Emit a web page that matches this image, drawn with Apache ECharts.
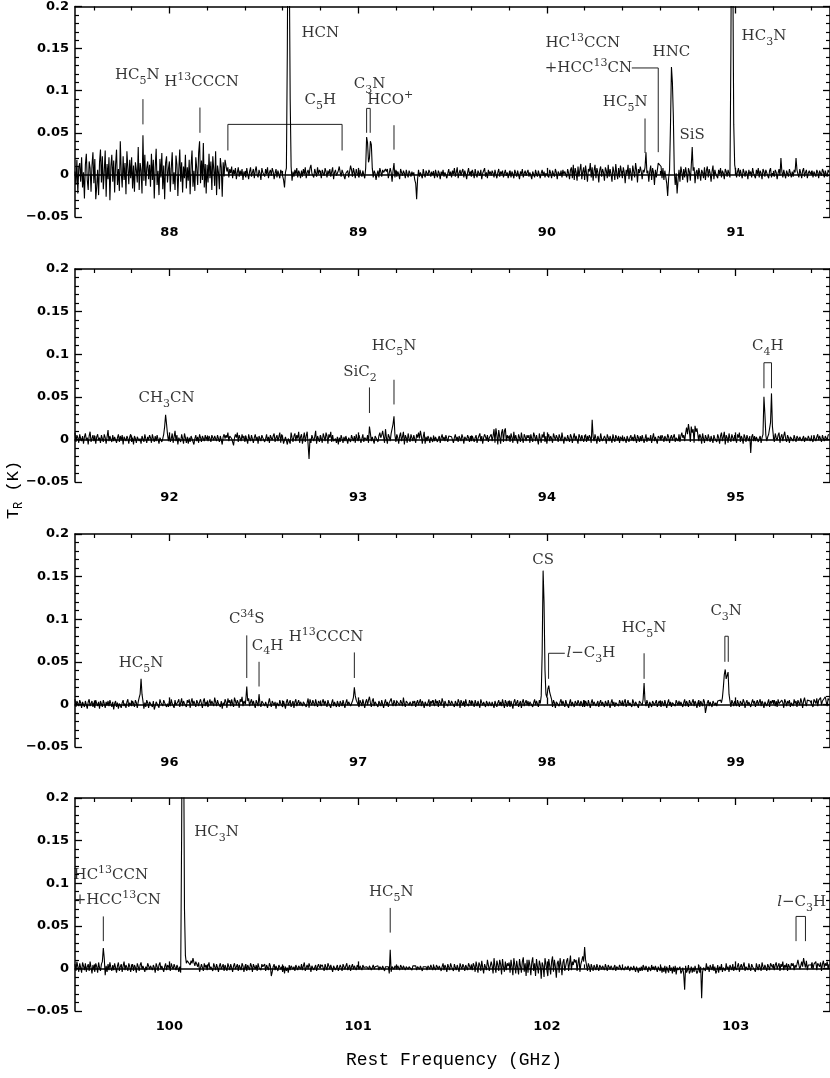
<!DOCTYPE html>
<html>
<head>
<meta charset="utf-8">
<script src="https://cdn.jsdelivr.net/npm/echarts@6/dist/echarts.min.js"></script>
<style>
  html, body { margin: 0; padding: 0; background: #fff; }
  #chart { width: 830px; height: 1078px; }
</style>
</head>
<body>
<div id="chart"></div>
<script>
// first channel of each panel (GHz); channels are 5 MHz apart
const panelStarts = [87.5, 91.5, 95.5, 99.5]
const channelStep = 0.005

// antenna temperature per channel, mK (one row = 0.1 GHz)
const spec1 = [
  4, -12, 18, -22, 9, 14, -8, 21, -15, 3, -28, 12, 25, -6, -18, 16, 8, -20, 11, 27, // 87.5
  -10, 19, -29, -14, 6, -24, 15, 30, -9, 22, -17, 4, 29, -26, 13, -5, 21, -30, 10, 24,
  -8, 17, -21, 12, 30, -12, 7, -19, 40, 3, -15, 22, -6, 14, -23, 28, 9, -11, 18, -4,
  21, -16, 11, -20, 15, 6, -9, 33, -18, 14, 5, -22, 47, -7, 24, -13, 8, 16, -5, 12,
  -14, 25, -6, 18, -28, 9, 31, -12, 5, -24, 19, -3, 26, -17, 11, -29, 14, 22, -9, 7,
  16, -20, 8, 27, -11, 3, -18, 23, 12, -25, 6, 30, -8, 15, -21, 10, -4, 24, -16, 9, // 88.0
  -7, 18, -23, 11, 29, -14, 5, -19, 21, 8, -12, 26, 40, -10, 17, -6, 38, -15, 13, -22,
  12, -9, 25, -4, 16, -18, 22, 7, -13, 28, -24, 11, 3, -17, 20, 9, -26, 15, -2, 18,
  20, 4, 9, -3, 7, 2, 10, -4, 6, 1, 8, -5, 3, 9, -2, 5, 0, 7, -6, 4,
  6, -3, 8, 1, -5, 4, 9, -2, 3, 7, -4, 5, 10, 0, -3, 6, 2, -6, 8, 3,
  5, -2, 7, 1, 9, -4, 3, 6, -1, 8, 4, -5, 2, 7, -3, 5, 1, -4, 6, 3, // 88.5
  2, -6, -15, 3, 8, 150, 400, 260, 90, 10, -7, 4, -2, 6, 1, 8, -3, 5, 2, -4,
  5, -2, 7, 1, 9, -4, 3, 6, -1, 8, 12, 2, 4, -3, 7, 5, -2, 9, 1, 6,
  3, -4, 6, 2, -1, 8, 4, -3, 5, 1, 7, -2, 4, 9, -5, 3, 6, -1, 2, 5,
  10, 3, -2, 6, 4, 8, -5, 2, 0, 5, -3, 4, 11, 6, -2, 8, 3, -4, 7, 2,
  4, -3, 6, 1, -2, 5, 3, -4, 8, 45, 38, 15, 20, 40, 36, 8, -3, 5, 2, -6, // 89.0
  1, 5, -3, 8, 4, -2, 6, 3, 2, 7, 4, 7, -4, 2, 8, 3, -8, 5, 14, -3,
  6, -2, 4, 1, -5, 7, 3, -1, 5, 2, -4, 6, 1, -3, 5, 2, -2, 4, 0, 3,
  -6, -10, -29, -5, 6, -2, 3, 5, -4, 7, 1, -3, 5, 2, -1, 6, 3, -2, 4, 0,
  3, -4, 6, 1, -3, 5, 2, -5, 4, 0, 6, -2, 3, 5, -4, 2, 7, -1, 4, -3,
  5, 1, 8, -2, 3, 9, -4, 2, 6, -1, 4, 7, -3, 5, 1, -5, 3, 8, 0, 4, // 89.5
  -2, 6, 2, -4, 7, 1, -3, 5, 3, -1, 6, -5, 2, 4, 8, -2, 3, -4, 6, 1,
  4, -1, 5, 2, -3, 6, 1, -4, 3, 7, -2, 4, 1, 5, -3, 2, 6, -1, 3, -4,
  2, 5, -3, 4, 1, -4, 6, 2, -2, 5, 3, -5, 4, 1, 7, -3, 2, 5, -1, 3,
  6, -2, 3, 1, -5, 4, 2, -3, 6, 1, -2, 5, 3, -4, 2, 6, -1, 4, -3, 2,
  1, 4, -3, 6, 2, -4, 5, 1, -2, 7, 3, -5, 4, 2, -1, 5, -3, 6, 1, 4, // 90.0
  4, -3, 7, 2, -5, 6, 9, -4, 12, -6, 8, 3, -7, 10, -2, 6, 13, -5, 4, 9,
  -6, 11, 2, -8, 7, 4, 14, -3, 9, -7, 5, 12, -4, 8, 3, -9, 6, 10, -2, 7,
  3, -7, 9, 5, -4, 12, -2, 7, 1, -8, 10, 4, -6, 13, 2, -5, 8, -3, 11, 4,
  -4, 9, 3, -10, 6, 1, 12, -5, 8, 2, -7, 11, 4, -3, 14, 6, -9, 7, 2, 10,
  4, -5, 6, 3, 9, 27, 2, 5, -8, 4, 11, -6, 8, 3, -12, 6, -3, 5, 14, 12, // 90.5
  16, 10, -4, 8, -6, 5, 3, -10, -25, -4, 6, 60, 128, 110, 70, 5, -12, 2, -22, -6,
  6, -8, 10, 3, -6, 7, -3, 9, 2, -9, 8, 4, -7, 11, 33, 5, 9, -10, 3, 6,
  -5, 8, 2, -7, 6, 3, -4, 9, -6, 5, 10, -3, 7, 2, -8, 4, 11, -5, 6, 1,
  3, -4, 6, 1, 8, -3, 5, 2, -5, 7, 4, -2, 6, 4, -3, 150, 400, 250, 60, 12,
  5, -3, 4, 8, -2, 6, 1, -4, 7, 3, -2, 5, 2, -5, 6, 1, 4, -3, 8, 2, // 91.0
  3, -4, 6, 1, 8, -3, 5, 2, -5, 7, 4, -2, 6, 4, -1, -4, 5, 8, -3, 2,
  4, -2, 6, 3, -5, 2, 7, -1, 20, 4, -3, 6, 1, -4, 5, 3, -2, 7, 2, -3,
  4, -2, 6, 3, 20, 6, 1, -3, 7, 2, -4, 5, 8, -2, 3, 6, -4, 2, 5, 1,
  2, 5, -3, 4, 1, -2, 6, 3, -4, 5, 2, -1, 7, 4, -3, 5, 1, -2, 6, 3
]
const spec2 = [
  8, -3, 5, 2, -4, 6, 1, -2, 4, -5, 3, 7, -1, 2, -6, 4, 9, -3, 1, 5, // 91.5
  -2, 4, -5, 3, 6, -1, 2, -4, 5, 1, -3, 6, 2, -5, 3, 11, -2, 4, 0, -3,
  5, -2, 3, 1, -4, 2, 6, -3, 4, -1, 5, -6, 3, 2, -2, 4, 1, -5, 3, 6,
  -3, 2, -6, 4, 1, -4, 3, 5, -2, 1, -5, 4, 2, -3, 6, 1, -4, 3, -1, 5,
  2, -4, 6, 1, -3, 4, -2, 5, 3, -5, 2, 4, -3, 1, 6, 15, 29, 18, 6, -2,
  5, -3, 1, 7, -4, 3, 10, -2, 5, -6, 2, 4, -3, 6, 1, -5, 7, 2, -4, 3, // 92.0
  -5, 2, -3, 4, 6, 3, -6, 1, 5, -2, 3, -4, 6, 2, -3, 4, 1, -2, 5, 0,
  3, -2, 4, 1, -3, 5, 2, -1, 4, 3, -2, 5, 1, -3, 4, 2, -6, 3, 6, 1,
  5, 2, 8, -2, 4, 6, 1, 3, -7, 2, 6, 2, 8, -3, 5, 3, -2, 6, 1, 4,
  -3, 4, 2, -5, 6, 1, -2, 5, 3, -4, 2, 6, -1, 3, -5, 4, 1, -2, 5, 2,
  4, -3, 1, 6, -2, 3, -4, 5, 2, -1, 4, 7, -3, 2, 5, -2, 3, 8, -4, 6, // 92.5
  2, -5, -4, 3, 5, -6, 1, 3, -5, 8, 2, -3, 4, 7, -2, 5, 1, 9, -4, 3,
  6, -5, 2, 8, -3, 4, 9, -6, -23, 1, -4, 5, 7, -2, 3, 10, -5, 4, 2, -3,
  5, 1, -4, 7, 3, -2, 8, 4, -5, 6, 2, 9, -3, 5, -2, -2, 1, -4, 3, -6,
  2, -3, 5, 1, -4, 3, -2, 4, 6, -5, 2, 1, -3, 5, 3, -2, 4, -4, 6, 1,
  -2, 5, 3, -4, 1, 6, -3, 2, 4, -1, 5, -4, 15, 7, -2, 3, 1, -5, 4, 2, // 93.0
  6, -3, 4, 8, 2, 5, 10, 3, -4, 12, 2, -5, 6, 3, -2, 7, 9, 18, 27, 5,
  -3, 6, 2, -5, 4, 8, -2, 3, 9, -6, 5, 2, -4, 7, 1, -3, 6, 4, -2, 5,
  3, -4, 6, 2, 8, 1, 10, 4, -5, 3, 9, -5, 3, -2, 4, 1, -4, 3, 2, -3,
  4, -2, 3, 5, -3, 1, 4, -4, 2, 6, -1, 3, -2, 5, 1, -3, 4, 2, 6, 3,
  5, -4, 2, 6, -1, 3, -3, 4, 1, -2, 6, 2, -5, 3, 4, -1, 5, 2, -3, 4, // 93.5
  -2, 4, 6, -3, 2, 5, -4, 1, 3, 7, -2, 4, -5, 2, 6, 3, -1, 5, -3, 2,
  3, 6, -2, 4, 12, -4, 13, 5, -6, 11, 3, -5, 8, 12, -3, 10, 13, -2, 5, 1,
  4, -3, 7, 2, -4, 9, -1, 5, 3, -5, 6, 2, -3, 8, 1, -4, 6, 3, -2, 5,
  2, 5, -4, 6, 1, -3, 8, 4, -2, 5, 3, -6, 7, 1, -4, 6, 2, 9, -3, 4,
  -5, 3, 6, -2, 4, 1, -4, 7, 3, -1, 5, 2, -3, 6, 4, -2, 8, 1, -5, 3, // 94.0
  4, -2, 5, 1, -3, 6, 3, -4, 2, 7, -1, 4, 2, -5, 6, 3, -2, 5, 1, -3,
  2, 6, -3, 4, -1, 5, 2, -4, 23, 3, -2, 6, 1, -5, 4, 2, -3, 7, 1, -2,
  -3, 4, 1, -5, 6, 2, -2, 4, 3, -4, 6, 1, -3, 5, 2, -1, 4, -4, 3, 2,
  5, -2, 3, 1, -4, 4, 6, -3, 2, 5, -1, 3, -2, 6, 1, -4, 5, 2, -3, 4,
  -2, 5, 3, -4, 1, 6, -3, 2, 4, -1, 5, -4, 2, 7, -2, 3, 1, -5, 4, 2, // 94.5
  3, -1, 5, 2, -3, 4, 1, -2, 6, 3, -4, 2, 5, -1, 3, 6, -3, 2, 4, -2,
  6, -3, 4, 8, 2, 5, -2, 7, 14, 6, 18, 10, -3, 15, 8, 12, -4, 16, 9, 13,
  11, -2, 6, 3, -5, 7, 1, -4, 5, 3, -2, 6, 1, -3, 4, 2, -4, 5, 1, 3,
  -3, 6, 2, -5, 4, 8, -2, 3, 9, -6, 5, 2, -4, 7, 1, -3, 6, 4, -2, 5,
  3, -4, 6, 2, 8, -3, 4, 1, -5, 6, 2, -3, 5, 1, -2, 4, -16, 3, 6, -2, // 95.0
  4, -2, 3, 5, -3, 1, 4, -4, 2, 6, 50, 30, 5, -2, 3, 6, 8, 20, 54, 15,
  4, -3, 7, 2, -1, 5, 8, -4, 3, 6, -2, 4, 9, 1, -3, 5, 2, -4, 3, 1,
  3, -2, 5, 1, -3, 4, 2, -1, 3, 5, -2, 1, 4, -3, 2, 3, -1, 4, 2, -2,
  2, 4, -3, 5, 1, -2, 3, 6, -1, 4, 2, -3, 5, 1, -2, 4, 3, -1, 5, 6
]
const spec3 = [
  6, -3, 4, 1, -2, 5, 2, -4, 3, 1, -3, 4, 2, -5, 3, 6, -2, 1, 4, -3, // 95.5
  2, -4, 5, 1, -2, 3, -5, 4, 2, -3, 5, 1, -4, 3, -1, 4, -2, 5, 1, -3,
  3, -6, 1, 4, -3, 2, -5, 1, 3, -4, 2, 5, -2, 1, -4, 3, 6, -3, 2, 4,
  -2, 4, 1, -3, 5, 2, -4, 3, 8, 12, 30, 12, 4, -5, 2, -3, 5, 2, -4, 3,
  5, 1, -3, 4, -6, -2, 3, 5, 1, -4, 6, 2, 3, -2, 5, 2, 4, -3, 1, -3,
  4, -2, 6, 1, 3, -4, 5, -1, -1, 3, 6, -3, 2, 7, -2, 4, 1, 3, -3, 5, // 96.0
  2, 6, -4, 3, 7, -1, 4, 2, -3, 5, 2, -2, 3, 6, 1, -4, 4, 7, -2, 3,
  5, -3, 2, 6, -1, 4, 3, -2, 8, 6, -2, 5, 1, 1, -3, 4, -5, 2, -1, 6,
  3, -4, 7, 2, 5, -2, 6, 1, -3, 8, 4, -1, 5, 2, -4, 6, 3, 9, -2, 4,
  1, 5, 21, 4, 7, -2, 3, 6, -1, 4, 2, -4, 5, 3, -2, 12, 1, -3, 4, 2,
  6, -2, 3, 5, -4, 2, 7, 1, -3, 4, 6, -1, 3, -5, 2, 4, -2, 5, 1, 3, // 96.5
  -3, 4, 2, -5, 3, 6, -1, 2, 5, -3, 1, 4, -4, 3, 6, -2, 2, 5, -1, 3,
  4, -2, 3, 1, 5, -3, 2, 7, -4, 6, 2, -1, 5, 3, -2, 6, 1, -3, 4, 2,
  5, -2, 3, 6, -1, 4, 2, -3, 5, 1, 3, -4, 2, 6, -2, 3, 1, -3, 4, 2,
  -3, 4, 1, -2, 5, 3, -4, 2, 6, -1, 3, 5, -2, 1, 4, 8, 20, 10, 5, 3,
  4, -3, 5, 2, -2, 6, 8, -4, 3, 6, -1, 5, 9, 2, -3, 4, 7, -2, 3, 1, // 97.0
  2, -3, 4, 1, -2, 5, 3, -4, 2, 6, -1, 3, -3, 2, 4, 7, 1, -2, 5, 3,
  -2, 4, 3, 6, -1, 5, 2, -2, 8, 1, -3, 4, 2, 6, -1, 3, 5, -2, 4, 1,
  4, -3, 2, 5, -1, 3, 6, -2, 4, 1, -4, 3, 5, -2, 2, 6, -3, 4, 1, 5,
  3, -2, 6, 1, 4, -3, 5, 2, -1, 7, 3, -4, 4, 1, 2, -2, 5, 3, -1, 4,
  2, 5, -3, 4, 1, -2, 6, 3, -4, 5, 2, -1, 4, -3, 6, 1, 3, -2, 5, 2, // 97.5
  -1, 4, 2, -3, 5, 1, -2, 4, 3, -4, 6, 2, -1, 3, 5, -3, 4, 1, -2, 3,
  5, -2, 3, 1, -4, 4, 6, -3, 2, 5, -1, 3, -2, 6, 1, -4, 5, 2, -3, 4,
  3, -3, 4, 2, -5, 3, 6, -1, 2, 5, -3, 1, 4, -4, 3, 6, -2, 2, 5, -1,
  4, -2, 3, 1, 5, -3, 2, 6, -1, 4, 2, -3, 5, 1, 10, 60, 157, 120, 40, 12,
  8, 18, 22, 14, 12, 6, -3, 5, 2, -4, 3, 1, 5, -2, 3, 6, -1, 4, 2, -3, // 98.0
  5, 1, 3, -4, 2, 6, -2, 3, 1, -3, 4, 2, -1, 5, 3, -2, 4, 1, -3, 5,
  -3, 4, 1, -2, 5, 3, -4, 2, 6, -1, 3, 5, -2, 1, 4, -3, 2, 5, -1, 3,
  2, -3, 4, 1, -2, 5, 3, -4, 2, 6, -1, 3, -3, 2, 4, 1, -2, 5, 3, -1,
  4, -2, 3, 6, -3, 1, 5, -1, 2, 4, -3, 6, 2, -2, 3, 5, 1, -4, 4, 2,
  3, -1, 6, 25, 4, -2, 5, 1, -4, 3, 2, -3, 4, 6, -1, 2, 5, -3, 1, 4, // 98.5
  2, -3, 4, 1, -2, 5, 3, -4, 2, 6, -1, 3, -3, 2, 4, 1, -2, 5, 3, -1,
  4, -1, 3, 5, -3, 2, 6, -2, 4, 1, -3, 5, 2, -1, 3, 6, -2, 4, 1, -4,
  2, 5, -3, 4, 1, -2, 6, 3, -10, -4, 2, 5, -2, 3, 1, -3, 4, 6, -1, 2,
  -2, 4, 3, 6, 5, 2, 8, 20, 35, 41, 30, 28, 38, 12, 4, -3, 5, 2, -2, 4,
  3, -2, 5, 1, -3, 4, 2, -1, 6, 3, -4, 2, 5, -1, 3, 4, -3, 2, 6, 1, // 99.0
  4, -3, 2, 5, -1, 3, 6, -2, 4, 1, -4, 3, 5, -2, 2, 6, -3, 4, 1, 5,
  2, 5, -2, 4, -3, 6, 1, 3, -1, 5, 2, -4, 6, 3, -2, 4, 1, 5, -3, 2,
  3, -2, 6, 1, 4, -3, 5, 2, -1, 7, 3, -4, 4, 8, 2, -2, 5, 3, 6, 4,
  5, 2, -3, 6, 4, 1, 7, -2, 5, 3, 8, -1, 4, 6, 2, 9, 3, -2, 7, 5
]
const spec4 = [
  5, -3, 8, 2, -4, 6, 1, -5, 7, 3, -2, 6, -4, 2, 5, -3, 8, 1, -6, 4, // 99.5
  3, -4, 6, 2, -5, 7, 1, -3, 5, 8, 24, 12, -8, 3, -4, 5, -2, 7, 1, -3,
  4, -2, 6, 1, -5, 3, 7, -3, 2, 5, -4, 3, 8, -2, 4, 1, -3, 6, 2, -4,
  2, 5, -3, 4, 1, -5, 6, 2, -3, 4, 7, -1, 3, 5, -4, 2, -2, 6, 3, -1,
  3, 5, -2, 4, 1, -5, 6, 2, -3, 4, 7, -1, 3, 5, -4, 2, 6, -2, 4, 1,
  4, -3, 6, 2, -1, 5, 3, -2, 4, 1, -4, 2, -5, 160, 400, 300, 70, 15, 6, 9, // 100.0
  8, 10, 4, 9, 6, 12, 7, 3, 8, 5, 2, 7, -4, -2, 5, 3, -3, 6, 1, 4,
  -2, 3, 7, -1, 2, 4, -3, 6, 2, -2, 5, 1, -4, 3, 6, -1, 2, 5, -3, 4,
  4, -3, 6, 2, -2, 5, 1, -4, 3, 6, -1, 2, 5, -3, 4, 1, -2, 6, 3, -4,
  2, 5, -3, 4, 1, -2, 6, 3, -4, 5, 2, -1, 4, -3, 6, 1, 3, -2, 5, 2,
  2, 5, -3, 4, 1, -2, 6, 3, -9, -4, 2, 5, -2, 3, 1, -3, 4, 6, -1, 2, // 100.5
  -4, 3, -6, 2, -3, 1, -5, 4, -2, 3, 5, -1, 2, -3, 4, 1, -2, 3, 5, -1,
  5, -2, 3, 7, -3, 1, 4, -1, 6, 2, -4, 3, 5, -2, 1, 4, -3, 2, 5, 1,
  3, -1, 4, 2, -3, 5, 1, -2, 6, 3, -1, 4, 2, -4, 3, 5, -2, 1, 4, -3,
  -2, 4, 1, -3, 5, 2, -1, 3, 6, -2, 1, 4, -3, 2, 5, -1, 3, 1, -2, 4,
  2, -1, 3, 1, -2, 4, 1, 3, -1, 2, 4, -1, 3, 2, -2, 1, 4, -1, 2, 3, // 101.0
  1, 3, -2, 2, 4, -1, 3, 1, -3, 2, 4, 0, 2, -6, 22, -4, 2, 1, -1, 3,
  2, -1, 3, 1, -2, 4, 2, -1, 3, 1, -2, 2, 3, -1, 2, 4, 1, -2, 3, 1,
  1, 3, -2, 2, 4, -1, 3, 1, -3, 2, 4, 0, 2, -2, 3, 1, -1, 4, 2, -2,
  3, 1, -2, 4, 2, -1, 3, 5, -3, 2, 6, -2, 4, 1, -4, 5, 3, -2, 6, 2,
  2, -3, 5, 1, -2, 4, 3, -4, 6, 2, -1, 5, 2, -3, 4, 1, -2, 6, 3, -1, // 101.5
  4, -2, 6, 3, -4, 8, 2, -5, 7, 4, -3, 9, 1, -6, 5, 3, -2, 10, 4, -3,
  -4, 8, 3, -6, 12, 2, -5, 9, 4, -3, 10, 5, -7, 11, 2, -4, 8, -2, 6, 3,
  7, -5, 10, 2, -8, 12, 4, -6, 9, 1, -7, 11, 3, -5, 8, 13, -4, 6, -9, 10,
  -5, 10, 4, -8, 7, 13, -3, 6, -9, 11, 2, -6, 9, 4, -12, 7, 3, -10, 12, 5,
  6, -9, 11, 3, -7, 8, 14, -4, 10, 2, -11, 6, 9, -5, 12, 4, -8, 7, 11, -3, // 102.0
  -4, 9, 12, -3, 6, 15, -2, 8, 4, 11, 7, 10, -3, 6, 13, -4, 5, 9, 14, 8,
  25, 10, 4, -3, 6, 2, -4, 5, 1, -3, 4, 3, -2, 5, 1, -3, 4, 2, -1, 3,
  3, -2, 5, 1, -3, 4, 2, -1, 3, 5, -2, 1, 4, -3, 2, 3, -1, 4, 2, -2,
  1, 3, -2, 2, 4, -1, 3, 0, -3, 2, 1, -2, 3, 1, -4, 2, 0, -5, 1, -3,
  2, -3, 4, 1, -2, 3, 0, -4, 2, 1, -3, 4, -1, 2, -2, 3, 1, -4, 2, 0, // 102.5
  -3, 2, -5, 1, -4, 3, -6, 2, -2, -5, 4, -3, 1, -6, 2, -4, 3, -7, 1, -2,
  -4, 2, -6, -3, 1, -7, -25, 3, -5, -2, 4, -6, -3, 2, -5, 1, -4, 3, -2, -6,
  -3, 4, -5, 2, -35, -4, 1, 3, -3, 6, -1, 2, -4, 4, 1, -2, 5, -3, 2, -6,
  -3, 4, -5, 2, -2, 5, -4, 1, 3, -3, 6, -1, 2, -4, 4, 1, -2, 5, -3, 2,
  4, -2, 3, 6, -4, 2, 5, -1, 3, 7, -3, 2, 4, -2, 6, 1, -3, 5, 2, 4, // 103.0
  3, -4, 6, 1, -2, 5, 3, -3, 7, 2, -1, 4, 6, -3, 5, 2, -2, 6, 4, 1,
  5, -2, 4, 7, -1, 3, 6, -3, 5, 2, 8, -2, 4, 1, 6, -3, 5, 3, -1, 6,
  3, 6, -2, 4, 1, 5, 10, 4, -1, 3, 8, 2, 12, 6, 1, 9, -2, 4, 3, 5,
  4, 7, -1, 5, 3, 8, -2, 6, 4, 2, 7, -3, 5, 9, 1, 6, 3, 8, -1, 5
]

// labelled frequency ticks under each panel
const majorTicks = [
  [88, 89, 90, 91],
  [92, 93, 94, 95],
  [96, 97, 98, 99],
  [100, 101, 102, 103],
]

// line identifications: [name (rich text), freq GHz, T of label centre]
const labels1 = [
  ['HC{s|5}N', 87.83, 0.118],
  ['H{u|13}CCCN', 88.17, 0.11],
  ['HCN', 88.80, 0.168],
  ['C{s|5}H', 88.80, 0.089],
  ['C{s|3}N', 89.06, 0.108],
  ['HCO{u|+}', 89.17, 0.089],
  ['HC{u|13}CCN', 90.19, 0.156],
  ['+HCC{u|13}CN', 90.22, 0.127],
  ['HC{s|5}N', 90.415, 0.086],
  ['HNC', 90.66, 0.146],
  ['SiS', 90.77, 0.047],
  ['HC{s|3}N', 91.15, 0.165],
]
const labels2 = [
  ['CH{s|3}CN', 91.985, 0.049],
  ['SiC{s|2}', 93.01, 0.079],
  ['HC{s|5}N', 93.19, 0.109],
  ['C{s|4}H', 95.17, 0.109],
]
const labels3 = [
  ['HC{s|5}N', 95.85, 0.049],
  ['C{u|34}S', 96.41, 0.1],
  ['C{s|4}H', 96.52, 0.069],
  ['H{u|13}CCCN', 96.83, 0.079],
  ['CS', 97.98, 0.169],
  ['{i|l}\u2212C{s|3}H', 98.233, 0.06],
  ['HC{s|5}N', 98.515, 0.089],
  ['C{s|3}N', 98.95, 0.109],
]
const labels4 = [
  ['HC{u|13}CCN', 99.69, 0.11],
  ['+HCC{u|13}CN', 99.724, 0.08],
  ['HC{s|3}N', 100.25, 0.16],
  ['HC{s|5}N', 101.176, 0.09],
  ['{i|l}\u2212C{s|3}H', 103.35, 0.078],
]

// marker ticks and brackets: polylines of [freq, T]
const markers1 = [
  [[87.86, 0.09], [87.86, 0.06]],
  [[88.162, 0.08], [88.162, 0.05]],
  [[88.31, 0.029], [88.31, 0.06], [88.915, 0.06], [88.915, 0.029]],
  [[89.045, 0.05], [89.045, 0.079], [89.064, 0.079], [89.064, 0.05]],
  [[89.19, 0.059], [89.19, 0.03]],
  [[90.52, 0.067], [90.52, 0.026]],
  [[90.45, 0.127], [90.59, 0.127], [90.59, 0.027]],
]
const markers2 = [
  [[93.06, 0.061], [93.06, 0.031]],
  [[93.19, 0.07], [93.19, 0.041]],
  [[95.15, 0.06], [95.15, 0.09], [95.19, 0.09], [95.19, 0.06]],
]
const markers3 = [
  [[96.41, 0.081], [96.41, 0.031]],
  [[96.475, 0.05], [96.475, 0.021]],
  [[96.98, 0.061], [96.98, 0.031]],
  [[98.009, 0.03], [98.009, 0.06], [98.095, 0.06]],
  [[98.515, 0.06], [98.515, 0.03]],
  [[98.943, 0.05], [98.943, 0.08], [98.961, 0.08], [98.961, 0.05]],
]
const markers4 = [
  [[99.65, 0.061], [99.65, 0.032]],
  [[101.17, 0.071], [101.17, 0.042]],
  [[103.32, 0.032], [103.32, 0.061], [103.37, 0.061], [103.37, 0.032]],
]

const spectra = [spec1, spec2, spec3, spec4]
const labelSets = [labels1, labels2, labels3, labels4]
const markerSets = [markers1, markers2, markers3, markers4]

const gridTops = [4, 269, 534, 798]
const tickFont = { color: '#000', fontFamily: 'DejaVu Sans', fontWeight: 'bold', fontSize: 13 }
const serif = 'DejaVu Serif'

function minorTicks(start) {
  const out = []
  for (let k = Math.ceil(start * 5); k <= Math.floor((start + 4) * 5); k++) {
    if (k % 5 !== 0) out.push(k / 5)
  }
  return out
}

const grid = []
const xAxis = []
const yAxis = []
const series = []

panelStarts.forEach((start, p) => {
  grid.push({ left: 75, top: gridTops[p], width: 759, height: 213 })
  const end = start + 4
  const minors = minorTicks(start)
  const lineStyle = { color: '#000', width: 1.5 }
  for (const pos of ['bottom', 'top']) {
    xAxis.push({
      type: 'value', gridIndex: p, position: pos, min: start, max: end,
      axisLine: { show: true, lineStyle },
      axisTick: { show: true, inside: true, length: 7, customValues: majorTicks[p], lineStyle: { color: '#000', width: 1.3 } },
      axisLabel: pos === 'bottom'
        ? { show: true, customValues: majorTicks[p], margin: 9, ...tickFont }
        : { show: false },
      splitLine: { show: false },
    })
    xAxis.push({
      type: 'value', gridIndex: p, position: pos, min: start, max: end,
      axisLine: { show: false },
      axisTick: { show: true, inside: true, length: 4, customValues: minors, lineStyle: { color: '#000', width: 1.2 } },
      axisLabel: { show: false },
      splitLine: { show: false },
    })
  }
  for (const pos of ['left', 'right']) {
    yAxis.push({
      type: 'value', gridIndex: p, position: pos, min: -0.05, max: 0.2, interval: 0.05,
      axisLine: { show: true, lineStyle },
      axisTick: { show: true, inside: true, length: 7, lineStyle: { color: '#000', width: 1.3 } },
      minorTick: { show: true, splitNumber: 5, length: 4, lineStyle: { color: '#000', width: 1.2 } },
      axisLabel: pos === 'left'
        ? { show: true, margin: 6, ...tickFont, formatter: v => String(v).replace('-', '\u2212') }
        : { show: false },
      splitLine: { show: false },
      minorSplitLine: { show: false },
    })
  }

  const pts = spectra[p].map((v, i) => [+(start + i * channelStep).toFixed(3), v / 1000])
  series.push({
    type: 'line', xAxisIndex: 4 * p, yAxisIndex: 2 * p, data: pts,
    showSymbol: false, symbol: 'none', clip: true, animation: false, silent: true,
    lineStyle: { color: '#000', width: 1.1 },
  })
  series.push({
    type: 'lines', coordinateSystem: 'cartesian2d', xAxisIndex: 4 * p, yAxisIndex: 2 * p,
    polyline: true, silent: true, animation: false,
    lineStyle: { color: '#222', width: 1, opacity: 1 },
    data: markerSets[p].map(c => ({ coords: c })),
  })
  series.push({
    type: 'scatter', xAxisIndex: 4 * p, yAxisIndex: 2 * p, symbolSize: 0,
    silent: true, animation: false, clip: false,
    data: labelSets[p].map(([name, f, t]) => ({ name, value: [f, t] })),
    label: {
      show: true, position: 'inside', formatter: q => q.name,
      color: '#000', fontFamily: serif, fontSize: 15,
      rich: {
        s: { fontFamily: serif, fontSize: 11, color: '#000', padding: [12, 0, 0, 0] },
        u: { fontFamily: serif, fontSize: 11, color: '#000', padding: [0, 0, 10, 0] },
        i: { fontFamily: serif, fontSize: 15, color: '#000', fontStyle: 'italic' },
      },
    },
  })
})

const chart = echarts.init(document.getElementById('chart'))
chart.setOption({
  backgroundColor: '#fff',
  animation: false,
  grid, xAxis, yAxis, series,
  graphic: [
    {
      type: 'text', x: 454, y: 1060,
      style: {
        text: 'Rest Frequency (GHz)', fill: '#000',
        font: '18px "Liberation Mono"',
        align: 'center', verticalAlign: 'middle', textAlign: 'center', textVerticalAlign: 'middle',
      },
    },
    {
      type: 'text', x: 13, y: 490, rotation: Math.PI / 2,
      style: {
        text: '{t|T}{r|R}{t| (K)}', fill: '#000',
        align: 'center', verticalAlign: 'middle', textAlign: 'center', textVerticalAlign: 'middle',
        rich: {
          t: { fontFamily: 'Liberation Mono', fontSize: 17, fill: '#000', color: '#000' },
          r: { fontFamily: 'Liberation Mono', fontSize: 12, fill: '#000', color: '#000', padding: [12, 0, 0, 0] },
        },
      },
    },
  ],
})
</script>
</body>
</html>
